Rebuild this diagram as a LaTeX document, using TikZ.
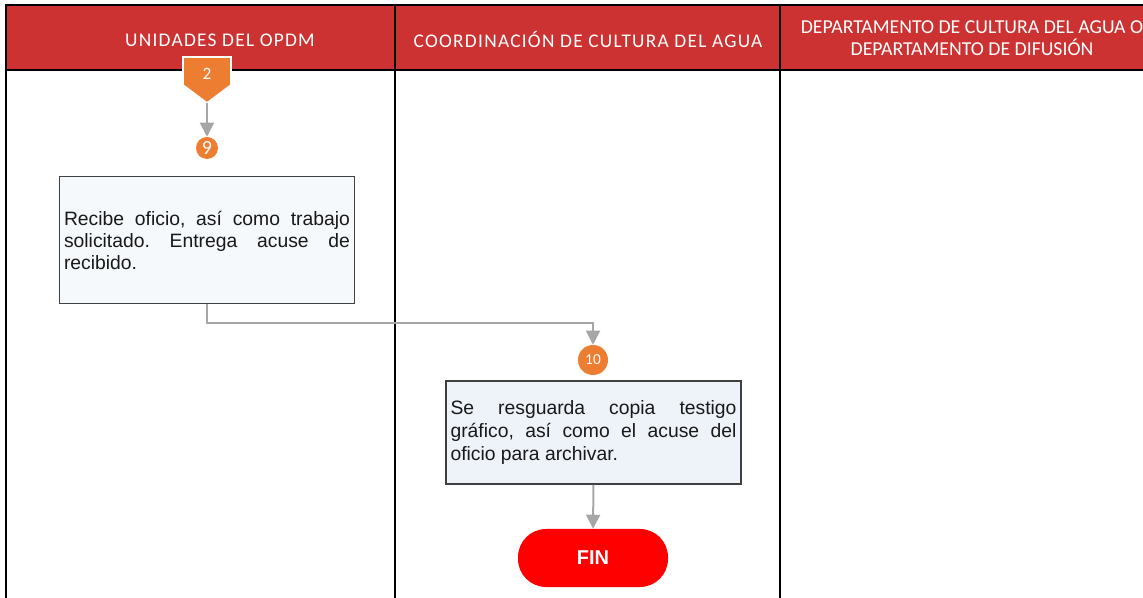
\documentclass[tikz,border=0pt]{standalone}
\usepackage{fontspec}
\setmainfont{Liberation Sans}
\newfontfamily\calib{Carlito}
\newfontfamily\calibsp[LetterSpace=6.5]{Carlito}
\usetikzlibrary{arrows.meta}
\definecolor{hdrred}{RGB}{204,50,50}
\definecolor{stepor}{RGB}{237,125,49}
\definecolor{linegray}{RGB}{166,166,166}
\definecolor{boxA}{RGB}{245,249,252}
\definecolor{boxB}{RGB}{238,243,250}
\definecolor{boxedge}{RGB}{64,64,64}
\definecolor{finred}{RGB}{255,0,0}
\frenchspacing
\tikzset{
  frameline/.style={draw=black,line width=1.6pt},
  hdrtext/.style={text=white,align=center},
  actbox/.style={draw=boxedge,line width=1.3pt,minimum width=295*0.75pt,inner sep=0pt,
     text width=286*0.75pt,align=justify,text=black!90},
  stepnum/.style={circle,fill=stepor,text=white,inner sep=0pt,font=\calib},
  flow/.style={draw=linegray,line width=1.5pt,-{Triangle[width=10.5pt,length=10.5pt]}},
}
\begin{document}
\begin{tikzpicture}[x=0.75pt,y=-0.75pt]
\useasboundingbox (0,0) rectangle (1143,598);
\clip (0,0) rectangle (1143,598);
\fill[white] (0,0) rectangle (1143,598);
% header band
\fill[hdrred] (6,5) rectangle (1160,70);
\draw[frameline] (6,610) -- (6,5) -- (1160,5);
\draw[frameline] (6,70) -- (1160,70);
\draw[frameline] (395,5) -- (395,610);
\draw[frameline] (780,5) -- (780,610);
% header texts
\node[hdrtext,font=\calibsp\fontsize{14.5}{17}\selectfont] (h1) at (220,40) {UNIDADES DEL OPDM};
\node[hdrtext,font=\calibsp\fontsize{14.5}{17}\selectfont] (h2) at (588,40) {COORDINACIÓN DE CULTURA DEL AGUA};
\node[hdrtext,font=\calib\fontsize{14.8}{16.5}\selectfont] (h3) at (972,38) {DEPARTAMENTO DE CULTURA DEL AGUA O\\DEPARTAMENTO DE DIFUSIÓN};
% off-page connector 2
\filldraw[fill=stepor,draw=white,line width=1.2pt] (183,57) -- (231,57) -- (231,85) -- (207,103) -- (183,85) -- cycle;
\node[text=white,font=\calib\fontsize{13}{15}\selectfont] (c2) at (207,74) {2};
\coordinate (c2tip) at (207,103);
% step 9
\node[stepnum,minimum size=22*0.75pt,font=\calib\fontsize{15}{17}\selectfont] (n9) at (207,148) {9};
\draw[flow] (c2tip) -- (n9.north);
% box 1
\node[actbox,fill=boxA,minimum height=127*0.75pt,font=\fontsize{14.5}{16.5}\selectfont] (b1) at (207,240)
  {Recibe oficio, así como trabajo\linebreak solicitado. Entrega acuse de\linebreak recibido.};
% step 10
\node[stepnum,minimum size=30*0.75pt,font=\calib\fontsize{11.5}{13}\selectfont] (n10) at (593,360) {10};
\draw[flow] (b1.south) -- ++(0,19) -| (n10.north);
% box 2
\node[actbox,fill=boxB,minimum height=103*0.75pt,font=\fontsize{14.5}{17.5}\selectfont] (b2) at (593.5,432.5)
  {Se resguarda copia testigo\linebreak gráfico, así como el acuse del\linebreak oficio para archivar.};
% FIN
\node[rounded corners=28*0.75pt,fill=finred,minimum width=150*0.75pt,minimum height=58*0.75pt,
  text=white,font=\bfseries\fontsize{15}{17}\selectfont] (fin) at (593,558) {FIN};
\draw[flow] (b2.south) -- (fin.north);
\end{tikzpicture}
\end{document}
